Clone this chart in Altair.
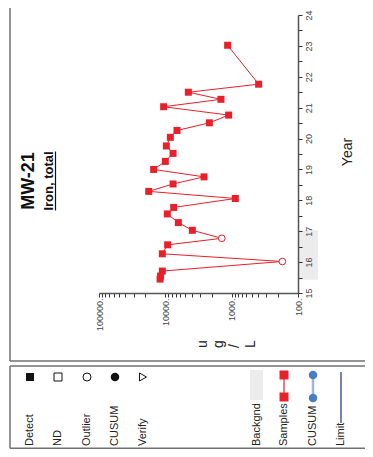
import altair as alt
import pandas as pd

# ---- data ----
years = [15.45, 15.55, 15.71, 16.02, 16.27, 16.56, 16.77, 17.03, 17.28, 17.56,
         17.77, 18.06, 18.29, 18.53, 18.76, 19.0, 19.26, 19.52, 19.76, 20.04,
         20.26, 20.51, 20.76, 21.03, 21.27, 21.5, 21.76, 23.02]
values = [12000, 11800, 11100, 172, 11100, 9230, 1410, 3920, 6370, 9330,
          7480, 881, 17800, 7650, 2610, 15000, 10000, 7650, 9660, 8410,
          6670, 2170, 1110, 10600, 1450, 4500, 392, 1150]
kinds = ["Detect"] * len(years)
kinds[3] = "Outlier"
kinds[6] = "Outlier"
bg_period = [15.43, 17.03]
year_ticks = [15 + 0.5 * i for i in range(19)]
value_ticks = [m * 10 ** e for e in (2, 3, 4) for m in range(1, 10)] + [100000]
legend_symbols = ["Detect", "ND", "Outlier", "CUSUM", "Verify"]
legend_series = ["Backgnd", "Samples", "CUSUM", "Limit"]

df = pd.DataFrame({"year": years, "value": values, "kind": kinds})
bg = pd.DataFrame({"start": [bg_period[0]], "end": [bg_period[1]]})
one = pd.DataFrame({"a": [0]})

W, H = 199, 278
FONT = "Liberation Sans"
RED = "#e8202a"
GRAY = "#707070"

xs = alt.Scale(type="log", domain=[100, 100000], reverse=True, nice=False)
ys = alt.Scale(domain=[15, 24], nice=False, zero=False)

x_axis = alt.Axis(
    values=value_ticks,
    labelExpr="indexof([100,1000,10000,100000], datum.value) >= 0 ? format(datum.value, 'd') + '.' : ''",
    labelAngle=270, labelAlign="right", labelBaseline="middle", labelPadding=1,
    labelFontSize=9, labelColor="#444", labelFont=FONT, labelOverlap=False, labelFlush=False,
    tickSize=4, tickColor="#333", tickWidth=1, domainColor="#555", domainWidth=1.5,
    grid=False, title=None, zindex=1,
)
y_axis = alt.Axis(
    orient="right", values=year_ticks,
    labelExpr="datum.value % 1 == 0 ? format(datum.value, 'd') : ''",
    labelAngle=270, labelAlign="center", labelBaseline="top", labelPadding=2,
    labelFontSize=9, labelColor="#444", labelFont=FONT, labelOverlap=False, labelFlush=False,
    tickSize=4, tickColor="#333", tickWidth=1, domainColor="#555", domainWidth=1.5,
    grid=False, title=None, zindex=1,
)

X = alt.X("value:Q", scale=xs, axis=x_axis)
Y = alt.Y("year:Q", scale=ys, axis=y_axis)


def text(s, x, y, size, align="center", weight="normal", color="#222", line_height=None):
    kw = dict(text=s, angle=270, align=align, baseline="middle", fontSize=size,
              font=FONT, fontWeight=weight, color=color)
    if line_height:
        kw["lineBreak"] = "\n"
        kw["lineHeight"] = line_height
    return alt.Chart(one).mark_text(**kw).encode(x=alt.value(x), y=alt.value(y))


def rule(x1, y1, x2, y2, color=GRAY, width=1.5):
    return alt.Chart(one).mark_rule(color=color, strokeWidth=width).encode(
        x=alt.value(x1), y=alt.value(y1), x2=alt.value(x2), y2=alt.value(y2))


def sym(shape, x, y, size, filled, color="#111", stroke_width=1):
    kw = dict(shape=shape, size=size, filled=filled, color=color, opacity=1, strokeWidth=stroke_width)
    if not filled:
        kw["fill"] = "white"
    return alt.Chart(one).mark_point(**kw).encode(x=alt.value(x), y=alt.value(y))


# ---- layers ----
band = alt.Chart(bg).mark_rect(color="#ececec").encode(
    y=alt.Y("start:Q", scale=ys, axis=y_axis), y2="end:Q",
    x=alt.value(W), x2=alt.value(W + 20))

line = alt.Chart(df).mark_line(color=RED, strokeWidth=1).encode(x=X, y=Y, order="year:Q")
detect = alt.Chart(df).transform_filter("datum.kind == 'Detect'").mark_point(
    shape="square", filled=True, size=49, color=RED, opacity=1).encode(x=X, y=Y)
outl = alt.Chart(df).transform_filter("datum.kind == 'Outlier'").mark_point(
    shape="circle", filled=False, fill="white", size=45, color=RED, opacity=1, strokeWidth=1).encode(x=X, y=Y)

# frames (plot coords: origin at plot top-left)
RIGHT = 266
frames = [
    rule(-89, -14.25, RIGHT, -14.25),
    rule(-89, -14.25, -89, 346),
    rule(-89, 346, RIGHT, 346),
    rule(-89, 351, RIGHT, 351),
    rule(-89, 351, -89, 433.25),
    rule(-89, 433.25, RIGHT, 433.25),
]

titles = [
    text("MW-21", -70, 166, 18, weight="bold", color="#111"),
    text("Iron, total", -50, 166, 13, weight="bold", color="#111"),
    rule(-43.5, 136.5, -43.5, 195.5, color="#111", width=1.2),
    text("Year", 248.5, 137, 14),
    text("u\ng\n/\nL", 104, 333, 14, align="left", line_height=16),
]

sym_x = [-69, -41, -12, 16, 44]
legend = [
    sym("square", sym_x[0], 362, 64, True),
    sym("square", sym_x[1], 362, 64, False),
    sym("circle", sym_x[2], 362, 64, False),
    sym("circle", sym_x[3], 362, 72, True),
    sym("triangle-right", sym_x[4], 362, 64, False),
]
for s, x in zip(legend_symbols, sym_x):
    legend.append(text(s, x, 431, 11, align="left"))

ser_x = [157.5, 185, 214, 242]
legend += [
    alt.Chart(one).mark_rect(color="#ececec").encode(
        x=alt.value(151), x2=alt.value(164), y=alt.value(355), y2=alt.value(385)),
    rule(185, 360, 185, 382, color=RED, width=1.2),
    sym("square", 185, 360, 81, True, color=RED),
    sym("square", 185, 382, 81, True, color=RED),
    rule(214, 360, 214, 383, color="#9bb7e0", width=2.5),
    sym("circle", 214, 360, 72, True, color="#4a7cc4"),
    sym("circle", 214, 383, 72, True, color="#4a7cc4"),
    rule(242, 357, 242, 408, color="#1f2d7a", width=1.2),
]
for s, x in zip(legend_series, ser_x):
    legend.append(text(s, x, 431, 11, align="left"))

chart = alt.layer(band, *frames, line, detect, outl, *titles, *legend).properties(
    width=W, height=H,
    autosize=alt.AutoSizeParams(type="none"),
    padding={"left": 91, "top": 7, "right": 67, "bottom": 156},
).configure_view(stroke=None)

chart.save("out.html", embed_options={"renderer": "svg", "actions": False})
